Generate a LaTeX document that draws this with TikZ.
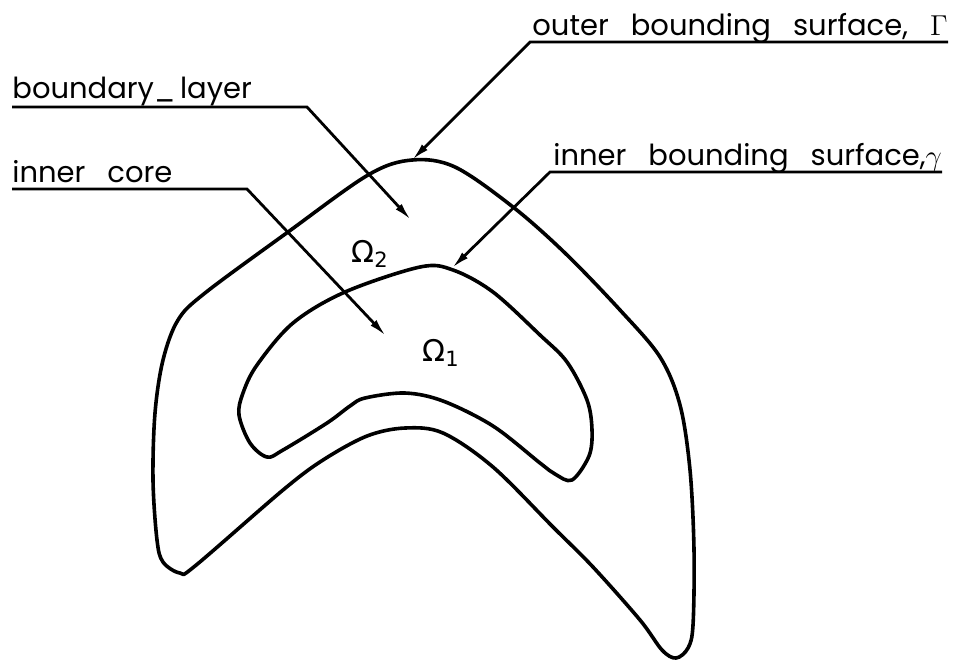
\documentclass[tikz,border=0pt]{standalone}
\usepackage{fontspec}
\setmainfont{Poppins}
\newfontfamily\grkfont{DejaVu Sans}
\usetikzlibrary{arrows.meta}

\begin{document}
\begin{tikzpicture}[x=0.5pt,y=-0.5pt,>={Latex[length=9pt,width=4pt]},
  rim/.style={line width=1.8pt,line join=round},
  lead/.style={line width=1.4pt,->},
  lbl/.style={anchor=base west,inner sep=0pt,font=\fontsize{14.5}{16}\selectfont,
    execute at begin node={\spaceskip=11pt\relax}},
  omega/.style={inner sep=0pt,font=\grkfont\fontsize{15}{17}\selectfont}]
  \useasboundingbox (0,0) rectangle (961,661);
  % outer bounding surface
  \draw[rim] plot[smooth cycle,tension=0.55] coordinates {
    (412,160) (455,167) (513,207) (565,253) (620,310) (660,357) (680,405)
    (690,470) (694,550) (693,625) (688,648) (676,658) (662,650) (640,620)
    (593,567) (553,527) (493,467) (443,433) (405,428) (367,436) (323,460)
    (283,490) (195,566) (180,573) (163,562) (157,540) (153,480) (155,413)
    (163,360) (178,320) (205,293) (288,232) (368,175)};
  % inner bounding surface
  \draw[rim] plot[smooth cycle,tension=0.55] coordinates {
    (420,267) (453,270) (493,292) (540,335) (567,362) (587,400) (592,430)
    (589,456) (572,480) (555,474) (540,463) (493,426) (443,401) (405,393)
    (365,398) (350,406) (327,423) (283,450) (267,457) (250,443) (239,415)
    (243,393) (257,365) (293,323) (345,292)};
  % regions
  \node[omega] (om2) at (370,254) {Ω\textsubscript{2}};
  \node[omega] (om1) at (441,353) {Ω\textsubscript{1}};
  % labels
  \node[lbl] (outer) at (532,35) {outer bounding surface, $\Gamma$};
  \node[lbl] (innerb) at (553,165) {inner bounding surface,$\gamma$};
  \node[lbl] (layer) at (12,98) {boundary\_\,layer};
  \node[lbl] (core) at (12,182) {inner core};
  \coordinate (outerK) at (530,42);
  \coordinate (outerT) at (412,160);
  \coordinate (innerK) at (550,172);
  \coordinate (innerT) at (452,268);
  \coordinate (layerK) at (307,107);
  \coordinate (layerT) at (411,220);
  \coordinate (coreK) at (247,189);
  \coordinate (coreT) at (386,336);
  \draw[lead] (outer.east |- outerK) -- (outerK) -- (outerT);
  \draw[lead] (innerb.east |- innerK) -- (innerK) -- (innerT);
  \draw[lead] (layer.west |- layerK) -- (layerK) -- (layerT);
  \draw[lead] (core.west |- coreK) -- (coreK) -- (coreT);
\end{tikzpicture}
\end{document}
